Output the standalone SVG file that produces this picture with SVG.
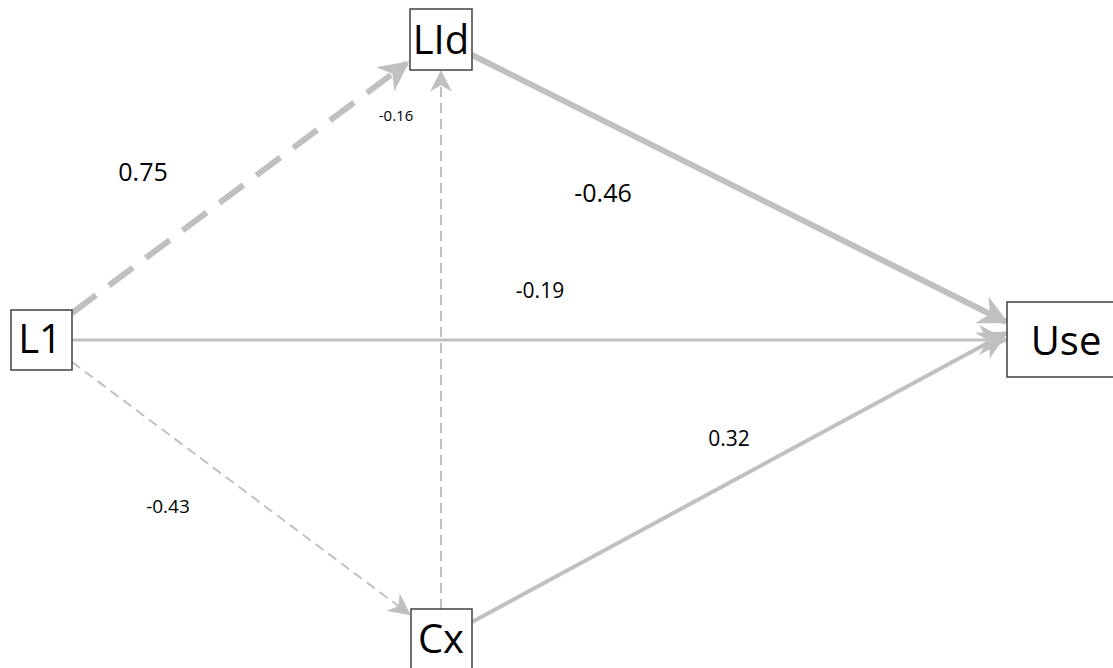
<svg xmlns="http://www.w3.org/2000/svg" width="1113" height="668" viewBox="0 0 1113 668">
<style>
.node rect{fill:#fff;stroke:#404040;stroke-width:1.5}
.node text{font-family:"Open Sans","Noto Sans",sans-serif;font-size:40px;fill:#000;text-anchor:middle}
.edge{stroke:#c0c0c0;fill:none}
.lbl{font-family:"Open Sans","Noto Sans",sans-serif;fill:#000;text-anchor:middle}
</style>
<defs>
<marker id="ah" viewBox="0 0 10 10" refX="9" refY="5" markerUnits="userSpaceOnUse" markerWidth="30" markerHeight="30" orient="auto">
<path d="M0,0 L10,5 L0,10 L3,5 Z" fill="#c0c0c0"/>
</marker>
<marker id="ahs" viewBox="0 0 10 10" refX="9" refY="5" markerUnits="userSpaceOnUse" markerWidth="22" markerHeight="22" orient="auto">
<path d="M0,0 L10,5 L0,10 L3,5 Z" fill="#c0c0c0"/>
</marker>
</defs>
<g id="connectors">
<line class="edge" x1="72" y1="313" x2="407" y2="63" stroke-width="6" stroke-dasharray="30,16" marker-end="url(#ah)"/>
<line class="edge" x1="72" y1="340" x2="1006" y2="340" stroke-width="3" marker-end="url(#ah)"/>
<line class="edge" x1="72" y1="362" x2="409" y2="614" stroke-width="2" stroke-dasharray="10,6" marker-end="url(#ahs)"/>
<line class="edge" x1="441" y1="609" x2="441" y2="72" stroke-width="2" stroke-dasharray="10,6" marker-end="url(#ahs)"/>
<line class="edge" x1="472" y1="55" x2="1006" y2="322" stroke-width="6" marker-end="url(#ah)"/>
<line class="edge" x1="472" y1="622" x2="1006" y2="333" stroke-width="4" marker-end="url(#ah)"/>
<text class="lbl" x="143" y="181" font-size="25">0.75</text>
<text class="lbl" x="396" y="121" font-size="15">-0.16</text>
<text class="lbl" x="603" y="202" font-size="25">-0.46</text>
<text class="lbl" x="540" y="298" font-size="21">-0.19</text>
<text class="lbl" x="729" y="446" font-size="21">0.32</text>
<text class="lbl" x="168" y="513" font-size="19">-0.43</text>
</g>
<g id="node-lid" class="node"><rect x="410" y="9" width="62" height="61"/><text x="441" y="54">LId</text></g>
<g id="node-l1" class="node"><rect x="11" y="310" width="61" height="60"/><text x="40" y="353">L1</text></g>
<g id="node-use" class="node"><rect x="1007" y="302" width="110" height="75"/><text x="1066" y="355">Use</text></g>
<g id="node-cx" class="node"><rect x="411" y="609" width="61" height="65"/><text x="441" y="653">Cx</text></g>
</svg>
